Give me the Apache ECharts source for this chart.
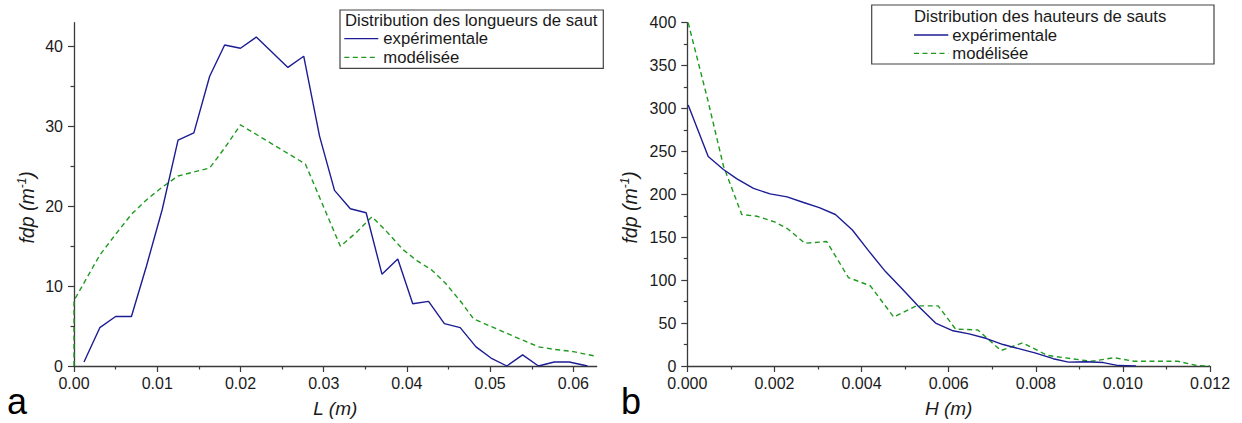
<!DOCTYPE html>
<html>
<head>
<meta charset="utf-8">
<script src="https://cdn.jsdelivr.net/npm/echarts@6/dist/echarts.min.js"></script>
<style>
html,body{margin:0;padding:0;background:#fff;}
#chart{width:1242px;height:423px;}
</style>
</head>
<body>
<div id="chart"></div>
<script>
// ---- Data ----
// Panel a: jump length distribution
const L_EXP_X = [0.0012,0.0031,0.0050,0.0069,0.0087,0.0106,0.0125,0.0144,0.0163,0.0181,0.0200,0.0219,0.0238,0.0257,0.0276,0.0295,0.0313,0.0332,0.0351,0.0370,0.0389,0.0407,0.0426,0.0445,0.0464,0.0483,0.0501,0.0520,0.0539,0.0558,0.0577,0.0595,0.0617];
const L_EXP_Y = [0.5,4.8,6.2,6.2,12.5,19.6,28.3,29.2,36.3,40.2,39.8,41.2,39.3,37.4,38.8,28.8,22.0,19.7,19.2,11.5,13.4,7.8,8.1,5.3,4.8,2.4,1.0,0,1.4,0,0.5,0.5,0];
const L_MOD_X = [0,0,0.0031,0.0050,0.0069,0.0088,0.0106,0.0125,0.0144,0.0163,0.0181,0.0200,0.0278,0.0320,0.0340,0.0358,0.0376,0.0395,0.0412,0.0430,0.0446,0.0466,0.0480,0.0500,0.0520,0.0540,0.0558,0.0576,0.0600,0.0628];
const L_MOD_Y = [0,8.2,13.9,16.5,19.0,20.9,22.4,23.8,24.3,24.8,27.3,30.2,25.3,15.0,16.8,18.7,16.8,14.6,13.2,12.0,10.4,7.9,5.9,5.0,4.1,3.2,2.4,2.1,1.8,1.2];
// Panel b: jump height distribution
const H_EXP_X = [0.00002,0.00048,0.00083,0.00114,0.00152,0.0019,0.00229,0.00267,0.00303,0.00340,0.00379,0.00415,0.00455,0.00493,0.0053,0.0057,0.0061,0.00647,0.00687,0.00725,0.00763,0.0080,0.0084,0.00875,0.00915,0.00955,0.0099,0.0103];
const H_EXP_Y = [304,244,229,218,207,200.5,197,190.5,184.5,176.5,158.5,135,110,90,70,50,41,37.5,32,25,20,15,8.5,4.5,5,4,0.5,0];
const H_MOD_X = [0.00002,0.00047,0.00083,0.00125,0.0016,0.0020,0.0023,0.0027,0.0032,0.0037,0.0042,0.00474,0.00526,0.00576,0.00616,0.00667,0.0072,0.0077,0.00827,0.00882,0.00927,0.0098,0.01026,0.01126,0.0117,0.0120];
const H_MOD_Y = [400,310,233,176.5,174.5,168,160,143,145,103,93.5,57,70,70,43,42,18,27,12.3,8.5,5.5,9.6,5.5,5.5,0.5,0];

// Tick values
const L_X_TICKS = [0,0.01,0.02,0.03,0.04,0.05,0.06];
const L_X_MINOR = [0.005,0.015,0.025,0.035,0.045,0.055];
const L_Y_TICKS = [0,10,20,30,40];
const L_Y_MINOR = [5,15,25,35];
const H_X_TICKS = [0,0.002,0.004,0.006,0.008,0.010,0.012];
const H_X_MINOR = [0.001,0.003,0.005,0.007,0.009,0.011];
const H_Y_TICKS = [0,50,100,150,200,250,300,350,400];
const H_Y_MINOR = [25,75,125,175,225,275,325,375];

const SERIES_NAMES = ['expérimentale','modélisée'];
const LEGEND_TITLES = ['Distribution des longueurs de saut','Distribution des hauteurs de sauts'];

// ---- Styles ----
const FONT = '"Liberation Sans", Arial, Helvetica, sans-serif';
const AXIS_COLOR = '#3a3a3a';
const TEXT_COLOR = '#1a1a1a';
const BLUE = '#1c1c94';
const GREEN = '#1f9a1f';

function pairs(xs, ys){ return xs.map((x,i)=>[x, ys[i]]); }

function majorX(grid, min, max, ticks, dec, name){
  return {
    type:'value', gridIndex:grid, min:min, max:max, position:'bottom',
    axisLine:{show:true, onZero:false, lineStyle:{color:AXIS_COLOR, width:1.3}},
    axisTick:{show:true, length:6, customValues:ticks, lineStyle:{color:AXIS_COLOR, width:1.2}},
    axisLabel:{customValues:ticks, formatter:v=>v.toFixed(dec), color:TEXT_COLOR, fontSize:16, fontFamily:FONT, margin:9},
    splitLine:{show:false},
    name:name, nameLocation:'middle', nameGap:33,
    nameTextStyle:{fontStyle:'italic', fontSize:19, fontFamily:FONT, color:TEXT_COLOR}
  };
}
function minorX(grid, min, max, ticks){
  return {
    type:'value', gridIndex:grid, min:min, max:max, position:'bottom',
    axisLine:{show:false},
    axisTick:{show:true, length:3.5, customValues:ticks, lineStyle:{color:AXIS_COLOR, width:1.2}},
    axisLabel:{show:false}, splitLine:{show:false}
  };
}
function majorY(grid, min, max, ticks, gap){
  return {
    type:'value', gridIndex:grid, min:min, max:max, position:'left',
    axisLine:{show:true, onZero:false, lineStyle:{color:AXIS_COLOR, width:1.3}},
    axisTick:{show:true, length:6, customValues:ticks, lineStyle:{color:AXIS_COLOR, width:1.2}},
    axisLabel:{customValues:ticks, color:TEXT_COLOR, fontSize:16, fontFamily:FONT, margin:11},
    splitLine:{show:false},
    name:'{n|fdp (m}{s|-1}{n|)}', nameLocation:'middle', nameGap:gap,
    nameTextStyle:{
      padding:[0,26,0,0],
      rich:{
        n:{fontStyle:'italic', fontSize:19.5, fontFamily:FONT, color:TEXT_COLOR, lineHeight:21},
        s:{fontStyle:'italic', fontSize:12, fontFamily:FONT, color:TEXT_COLOR, verticalAlign:'top', lineHeight:21, padding:[0,0,8,0]}
      }
    }
  };
}
function minorY(grid, min, max, ticks){
  return {
    type:'value', gridIndex:grid, min:min, max:max, position:'left',
    axisLine:{show:false},
    axisTick:{show:true, length:3.5, customValues:ticks, lineStyle:{color:AXIS_COLOR, width:1.2}},
    axisLabel:{show:false}, splitLine:{show:false}
  };
}

function legendGraphic(box, titleX, titleY, lineX0, lineX1, textX, y1, y2, title){
  const f = '16.7px ' + FONT;
  return [
    {type:'rect', shape:{x:box[0], y:box[1], width:box[2], height:box[3]},
     style:{fill:'#fff', stroke:'#444', lineWidth:1.2}, z:100},
    {type:'text', x:titleX, y:titleY, z:101,
     style:{text:title, font:f, fill:TEXT_COLOR, textVerticalAlign:'middle', textAlign:'left'}},
    {type:'line', shape:{x1:lineX0, y1:y1, x2:lineX1, y2:y1}, z:101,
     style:{stroke:BLUE, lineWidth:1.3}},
    {type:'text', x:textX, y:y1, z:101,
     style:{text:SERIES_NAMES[0], font:f, fill:TEXT_COLOR, textVerticalAlign:'middle', textAlign:'left'}},
    {type:'line', shape:{x1:lineX0, y1:y2, x2:lineX1, y2:y2}, z:101,
     style:{stroke:GREEN, lineWidth:1.3, lineDash:[5,3.5]}},
    {type:'text', x:textX, y:y2, z:101,
     style:{text:SERIES_NAMES[1], font:f, fill:TEXT_COLOR, textVerticalAlign:'middle', textAlign:'left'}}
  ];
}

const chart = echarts.init(document.getElementById('chart'), null, {renderer:'svg'});
const option = {
  backgroundColor:'#fff',
  animation:false,
  grid:[
    {left:74, top:22.7, width:522.7, height:344.6},
    {left:687.3, top:22.7, width:522.7, height:344.6}
  ],
  xAxis:[
    majorX(0, 0, 0.0628, L_X_TICKS, 2, 'L (m)'),
    minorX(0, 0, 0.0628, L_X_MINOR),
    majorX(1, 0, 0.012, H_X_TICKS, 3, 'H (m)'),
    minorX(1, 0, 0.012, H_X_MINOR)
  ],
  yAxis:[
    majorY(0, 0, 43, L_Y_TICKS, 37),
    minorY(0, 0, 43, L_Y_MINOR),
    majorY(1, 0, 400, H_Y_TICKS, 47),
    minorY(1, 0, 400, H_Y_MINOR)
  ],
  series:[
    {name:SERIES_NAMES[0], type:'line', xAxisIndex:0, yAxisIndex:0, data:pairs(L_EXP_X, L_EXP_Y),
     showSymbol:false, symbol:'none', lineStyle:{color:BLUE, width:1.4}, z:3},
    {name:SERIES_NAMES[1], type:'line', xAxisIndex:0, yAxisIndex:0, data:pairs(L_MOD_X, L_MOD_Y),
     showSymbol:false, symbol:'none', lineStyle:{color:GREEN, width:1.4, type:[5,3.5]}, z:2},
    {name:SERIES_NAMES[0], type:'line', xAxisIndex:2, yAxisIndex:2, data:pairs(H_EXP_X, H_EXP_Y),
     showSymbol:false, symbol:'none', lineStyle:{color:BLUE, width:1.4}, z:3},
    {name:SERIES_NAMES[1], type:'line', xAxisIndex:2, yAxisIndex:2, data:pairs(H_MOD_X, H_MOD_Y),
     showSymbol:false, symbol:'none', lineStyle:{color:GREEN, width:1.4, type:[5,3.5]}, z:2}
  ],
  graphic:[
    ...legendGraphic([340,10,263.3,58.3], 345, 20.5, 344.3, 378.3, 383.3, 38.7, 57.3, LEGEND_TITLES[0]),
    ...legendGraphic([871.7,5,342.3,59], 914, 16, 914, 948.3, 952.3, 35, 53.3, LEGEND_TITLES[1]),
    {type:'text', x:7, y:401, style:{text:'a', font:'36px '+FONT, fill:'#000', textVerticalAlign:'middle'}},
    {type:'text', x:621, y:401, style:{text:'b', font:'36px '+FONT, fill:'#000', textVerticalAlign:'middle'}}
  ]
};
chart.setOption(option);
</script>
</body>
</html>
